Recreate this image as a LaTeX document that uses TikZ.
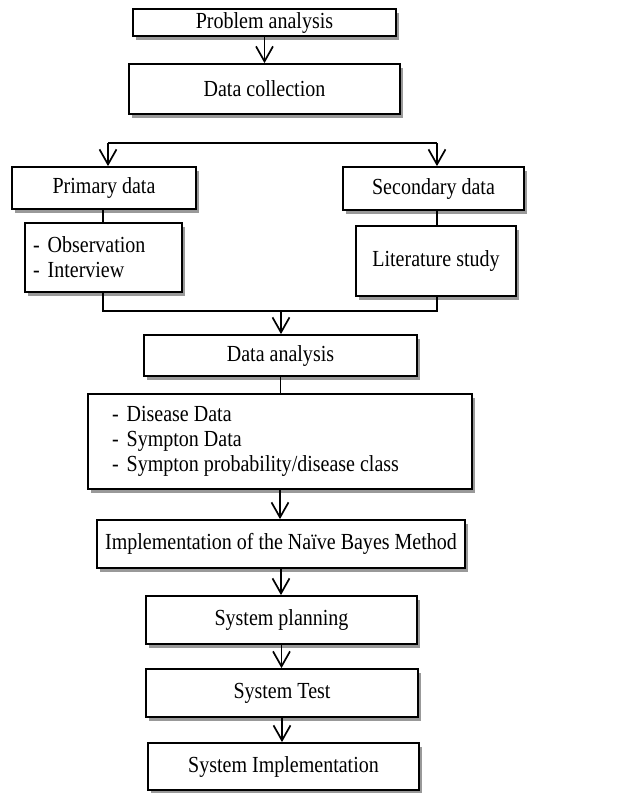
\documentclass[tikz,border=0pt]{standalone}
\usepackage{fontspec}
\setmainfont{Liberation Serif}[FakeStretch=0.87]
\usetikzlibrary{arrows.meta,shadows}
\begin{document}
\begin{tikzpicture}[x=1pt,y=-1pt,
  box/.style={draw=black,line width=1.8pt,fill=white,inner sep=0pt,
    font=\fontsize{23}{25}\selectfont,
    drop shadow={shadow xshift=3pt,shadow yshift=-4pt,fill=black!40,opacity=1}},
  conn/.style={line width=1.4pt},
  arr/.style={conn,-{Straight Barb[length=15pt,width=17pt,line width=1.7pt]}}]
\useasboundingbox (0,0) rectangle (642,793);
% boxes
\node[box,minimum width=263pt,minimum height=27pt] (pa) at (264.5,22.5) {Problem analysis};
\node[box,minimum width=271pt,minimum height=50pt] (dc) at (264.5,89) {Data collection};
\node[box,minimum width=184pt,minimum height=42pt] (pd) at (104,188) {Primary data};
\node[box,minimum width=181pt,minimum height=43pt] (sd) at (433.5,188.5) {Secondary data};
\node[box,text width=141pt,inner xsep=8pt,minimum height=69pt,align=left] (obs) at (103.5,257.5)
  {\spaceskip=0pt\relax -\hspace{8pt}Observation\\-\hspace{8pt}Interview};
\node[box,minimum width=160pt,minimum height=70pt] (lit) at (436,261) {Literature study};
\node[box,minimum width=273pt,minimum height=41pt] (da) at (280.5,355.5) {Data analysis};
\node[box,text width=336pt,inner xsep=24pt,minimum height=95pt,align=left] (dis) at (280,441.5)
  {\spaceskip=0pt\relax -\hspace{8pt}Disease Data\\-\hspace{8pt}Sympton Data\\-\hspace{8pt}Sympton probability/disease class};
\node[box,minimum width=368pt,minimum height=48pt] (impl) at (281,544) {Implementation of the Naïve Bayes Method};
\node[box,minimum width=271pt,minimum height=48pt] (sp) at (281.5,620) {System planning};
\node[box,minimum width=272pt,minimum height=48pt] (st) at (282,693) {System Test};
\node[box,minimum width=271pt,minimum height=47pt] (si) at (283.5,766.5) {System Implementation};
% coordinates
\coordinate (hl) at (108,143);
\coordinate (hr) at (437,143);
\coordinate (bl) at (103,311);
\coordinate (br) at (437,311);
\coordinate (bm) at (281,311);
% connectors
\draw[arr] (pa.south) -- (dc.north);
\draw[conn] (hl) -- (hr);
\draw[arr] (hl) -- (hl |- pd.north);
\draw[arr] (hr) -- (hr |- sd.north);
\draw[conn] (pd.south -| bl) -- (obs.north -| bl);
\draw[conn] (sd.south -| br) -- (lit.north -| br);
\draw[conn] (obs.south -| bl) -- (bl) -- (br) -- (lit.south -| br);
\draw[arr] (bm) -- (bm |- da.north);
\draw[conn] (da.south) -- (da.south |- dis.north);
\draw[arr] (dis.south) -- (dis.south |- impl.north);
\draw[arr] (impl.south) -- (impl.south |- sp.north);
\draw[arr] (sp.south) -- (sp.south |- st.north);
\draw[arr] (st.south) -- (st.south |- si.north);
\end{tikzpicture}
\end{document}
